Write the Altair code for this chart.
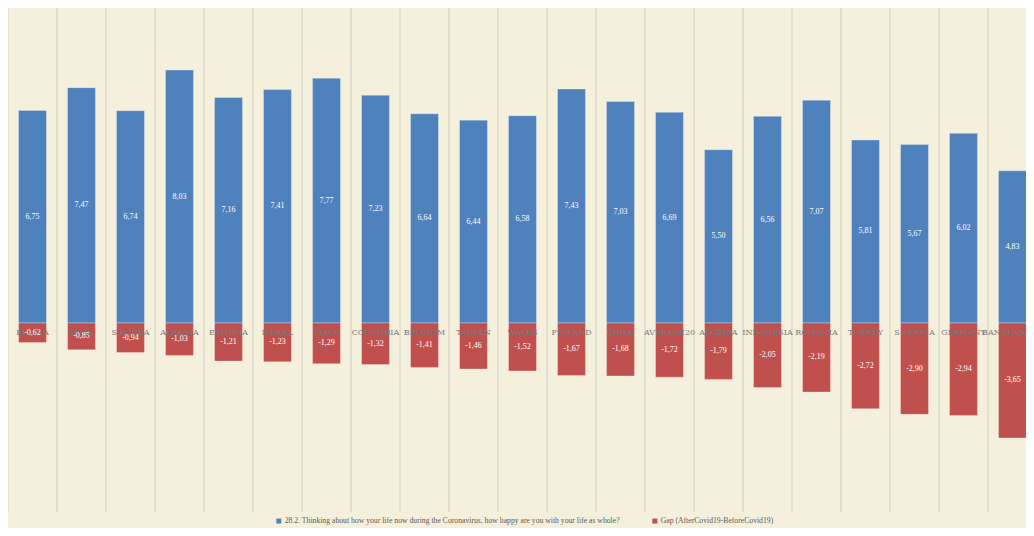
import altair as alt
import pandas as pd

countries = ["RUSSIA", "SPAIN", "S KOREA", "ALBANIA", "ESTONIA", "ISRAEL", "ITALY",
             "COLOMBIA", "BELGIUM", "TAIWAN", "WALES", "FINLAND", "CHILE", "AVERAGE20",
             "ALGERIA", "INDONESIA", "ROMANIA", "TURKEY", "S AFRICA", "GERMANY", "BANGLADESH"]
happiness = [6.75, 7.47, 6.74, 8.03, 7.16, 7.41, 7.77, 7.23, 6.64, 6.44, 6.58,
             7.43, 7.03, 6.69, 5.50, 6.56, 7.07, 5.81, 5.67, 6.02, 4.83]
gap = [-0.62, -0.85, -0.94, -1.03, -1.21, -1.23, -1.29, -1.32, -1.41, -1.46, -1.52,
       -1.67, -1.68, -1.72, -1.79, -2.05, -2.19, -2.72, -2.90, -2.94, -3.65]
series_names = ["28.2. Thinking about how your life now during the Coronavirus, how happy are you with your life as whole?",
                "Gap (AfterCovid19-BeforeCovid19)"]
colors = ["#4F81BD", "#C0504D"]

rows = []
for c, h, g in zip(countries, happiness, gap):
    rows.append({"country": c, "series": series_names[0], "value": h,
                 "label": f"{h:.2f}".replace(".", ",")})
    rows.append({"country": c, "series": series_names[1], "value": g,
                 "label": f"{g:.2f}".replace(".", ",")})
df = pd.DataFrame(rows)

xscale = alt.Scale(paddingInner=0, paddingOuter=0, range=[0, 1029])
yscale = alt.Scale(domain=[-6, 10], nice=False, range=[504, 0])

cat_df = pd.DataFrame({"country": countries})

grid = alt.Chart(cat_df).mark_rule(color="#DCDAD0", strokeWidth=1.5).encode(
    x=alt.X("country:N", sort=countries, scale=xscale, axis=None, bandPosition=0),
    y=alt.value(0),
    y2=alt.value(504),
)

bars = alt.Chart(df).mark_bar(
    width=alt.RelativeBandSize(0.57), stroke="white", strokeOpacity=0.3, strokeWidth=1
).encode(
    x=alt.X("country:N", sort=countries, scale=xscale, axis=None),
    y=alt.Y("value:Q", scale=yscale, axis=None, stack=None),
    color=alt.Color("series:N", scale=alt.Scale(domain=series_names, range=colors),
                    legend=alt.Legend(orient="none", legendX=267, legendY=509,
                                      direction="horizontal", title=None,
                                      symbolType="square", symbolSize=25,
                                      symbolStrokeWidth=0,
                                      labelFont="Liberation Serif", labelFontSize=7.7,
                                      labelColor="#595959", columnPadding=31,
                                      labelOffset=2, labelLimit=1000)),
)

cat_labels = alt.Chart(cat_df).mark_text(
    dy=10, font="DejaVu Serif", fontSize=8, color="#7A7A7A"
).encode(
    x=alt.X("country:N", sort=countries, scale=xscale, axis=None),
    y=alt.datum(0),
    text="country:N",
)

val_labels = alt.Chart(df).transform_calculate(
    mid="datum.value / 2"
).mark_text(
    font="Liberation Serif", fontSize=8, color="white"
).encode(
    x=alt.X("country:N", sort=countries, scale=xscale, axis=None),
    y=alt.Y("mid:Q", scale=yscale),
    text="label:N",
)

chart = alt.layer(grid, bars, cat_labels, val_labels).properties(
    width=1018, height=520, padding=0, background="#F5F0DB",
    autosize=alt.AutoSizeParams(type="none"),
).configure_view(stroke=None)

chart.save("out.html", embed_options={"renderer": "svg", "actions": False})
